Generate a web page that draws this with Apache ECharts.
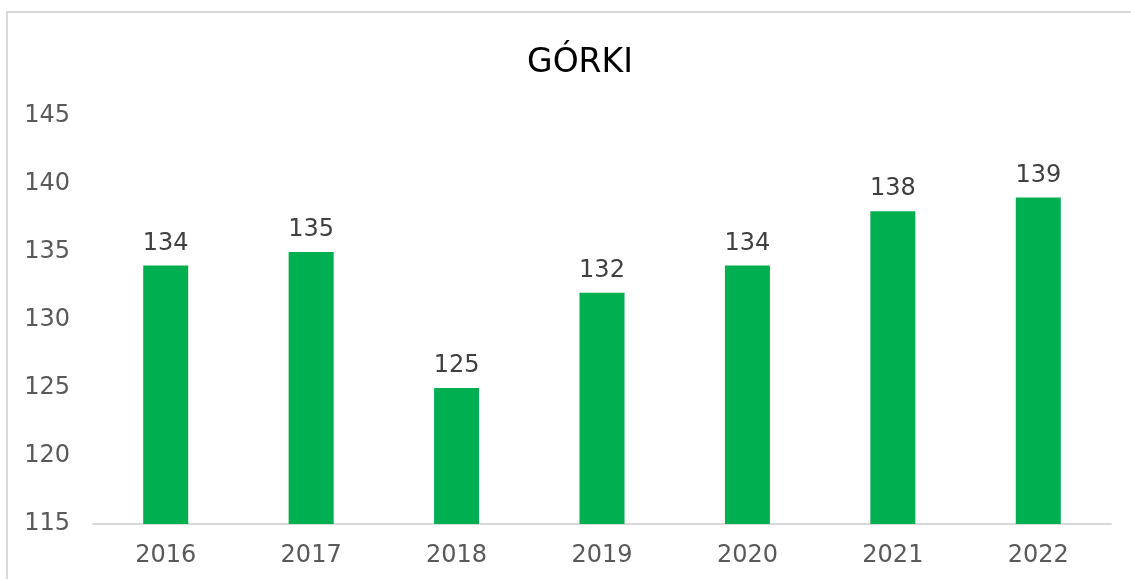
<!DOCTYPE html>
<html><head><meta charset="utf-8">
<script src="https://cdn.jsdelivr.net/npm/echarts@6/dist/echarts.min.js"></script>
<style>
html,body{margin:0;padding:0;background:#fff;overflow:hidden}
#frame{position:absolute;left:6px;top:11px;width:1200px;height:700px;border-left:2px solid #d9d9d9;border-top:2px solid #d9d9d9;box-sizing:border-box}
#c{position:absolute;left:0;top:0;width:1131px;height:579px}
</style></head>
<body>
<div id="frame"></div>
<div id="c"></div>
<script>
const titleText = "GÓRKI";
const categories = ["2016","2017","2018","2019","2020","2021","2022"];
const values = [134,135,125,132,134,138,139];
const yMin = 115, yMax = 145, yStep = 5;

const chart = echarts.init(document.getElementById('c'), null, {renderer:'canvas'});
const font = '"DejaVu Sans", Verdana, sans-serif';
chart.setOption({
  animation:false,
  backgroundColor:'transparent',
  title:{text:titleText,left:575,top:42,textAlign:'center',
    textStyle:{fontFamily:font,fontSize:33,fontWeight:'normal',color:'#000'}},
  grid:{left:93,right:20,top:116,bottom:55},
  xAxis:{type:'category',data:categories,
    axisLine:{lineStyle:{color:'#d9d9d9',width:2}},
    axisTick:{show:false},
    axisLabel:{fontFamily:font,fontSize:24,color:'#595959',margin:20}},
  yAxis:{type:'value',min:yMin,max:yMax,interval:yStep,
    axisLine:{show:false},axisTick:{show:false},splitLine:{show:false},
    axisLabel:{fontFamily:font,fontSize:24,color:'#595959',margin:23}},
  series:[{type:'bar',data:values,barWidth:45,
    itemStyle:{color:'#00b050'},
    label:{show:true,position:'top',distance:10,fontFamily:font,fontSize:24,color:'#404040'}}]
});
</script>
</body></html>
